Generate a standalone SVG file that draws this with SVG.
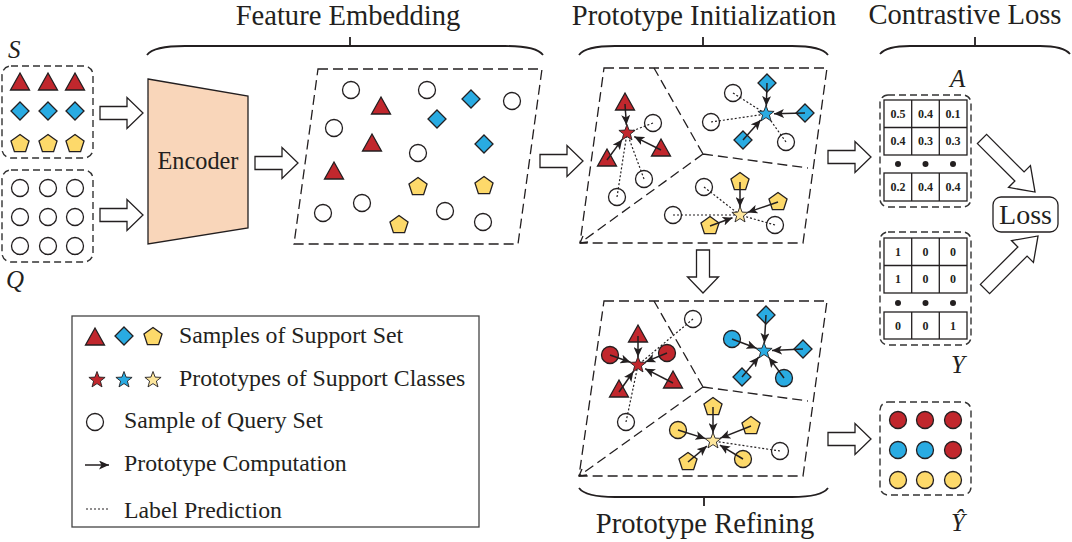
<svg xmlns="http://www.w3.org/2000/svg" xmlns:xlink="http://www.w3.org/1999/xlink" width="1072" height="542" viewBox="0 0 1072 542">
<style>
.t{font-family:"Liberation Serif","Times New Roman",serif;fill:#231f20}
.ttl{font-size:28.6px;text-anchor:middle}
.lg{font-size:23.8px}
.it{font-style:italic;font-size:25px}
.num{font-size:12px;font-weight:bold;text-anchor:middle}
.sh{stroke:#231f20;stroke-width:1.3}
.r{fill:#c1272d}.b{fill:#29abe2}.y{fill:#fdd96a}.ys{fill:#fde69c}.w{fill:none}.wf{fill:#fff}
.dash{fill:none;stroke:#231f20;stroke-width:1.3;stroke-dasharray:10,5}
.rbox{fill:none;stroke:#333;stroke-width:1.4;stroke-dasharray:7,4}
.brace{fill:none;stroke:#231f20;stroke-width:1.8}
.ha{fill:#fff;stroke:#231f20;stroke-width:1.3}
.ar{stroke:#231f20;stroke-width:1.5;fill:none;marker-end:url(#ah)}
.dt{stroke:#231f20;stroke-width:1.2;stroke-dasharray:2,2;fill:none}
.grid{fill:#fff;stroke:#231f20;stroke-width:1.3}
</style>
<defs>
<marker id="ah" markerUnits="userSpaceOnUse" markerWidth="11" markerHeight="9" refX="10" refY="4.5" orient="auto"><path d="M0,0 L10,4.5 L0,9 L2.5,4.5 Z" fill="#231f20"/></marker>
<polygon id="tri" points="0,-10 9.5,7 -9.5,7" class="sh"/>
<polygon id="dia" points="0,-9 9,0 0,9 -9,0" class="sh"/>
<polygon id="pen" points="0,-9.5 9.04,-2.94 5.58,7.69 -5.58,7.69 -9.04,-2.94" class="sh"/>
<circle id="cir" r="8.5" class="sh"/>
<polygon id="star" points="0,-8.5 2.1,-2.9 8.1,-2.6 3.4,1.1 5,6.9 0,3.6 -5,6.9 -3.4,1.1 -8.1,-2.6 -2.1,-2.9" stroke="#231f20" stroke-width="0.9"/>
<path id="harr" d="M0,-6.5 H27 V-15.5 L43,0 L27,15.5 V6.5 H0 Z" class="ha"/>
<path id="harrL" d="M0,-6.5 H53 V-15.5 L75,0 L53,15.5 V6.5 H0 Z" class="ha"/>
</defs>
<rect width="1072" height="542" fill="#fff"/>

<!-- Titles and braces -->
<g id="titles">
<text class="t ttl" x="348" y="25">Feature Embedding</text>
<text class="t ttl" x="704" y="25">Prototype Initialization</text>
<text class="t ttl" x="965" y="24">Contrastive Loss</text>
<text class="t ttl" x="705" y="533">Prototype Refining</text>
<path class="brace" d="M147,55 C152,48 165,46 185,46 H505 C525,46 538,48 543,55 M350,46 V37"/>
<path class="brace" d="M579,55 C584,48 597,46 615,46 H792 C810,46 823,48 828,55 M703,46 V37"/>
<path class="brace" d="M880,54 C885,48 896,46 910,46 H1040 C1054,46 1065,48 1070,54 M975,46 V37"/>
<path class="brace" d="M579,488 C584,495 597,497 615,497 H792 C810,497 823,495 828,488 M704,497 V506"/>
</g>

<!-- Support set S -->
<g id="support-set">
<text class="t it" x="8" y="58">S</text>
<rect class="rbox" x="2" y="66" width="91" height="92" rx="9"/>
<use href="#tri" class="r" x="20" y="83"/><use href="#tri" class="r" x="48" y="83"/><use href="#tri" class="r" x="75" y="83"/>
<use href="#dia" class="b" x="20" y="111"/><use href="#dia" class="b" x="48" y="111"/><use href="#dia" class="b" x="75" y="111"/>
<use href="#pen" class="y" x="20" y="144"/><use href="#pen" class="y" x="48" y="144"/><use href="#pen" class="y" x="75" y="144"/>
</g>

<!-- Query set Q -->
<g id="query-set">
<rect class="rbox" x="2" y="170" width="91" height="92" rx="9"/>
<use href="#cir" class="w" x="20" y="188"/><use href="#cir" class="w" x="48" y="188"/><use href="#cir" class="w" x="75" y="188"/>
<use href="#cir" class="w" x="20" y="217"/><use href="#cir" class="w" x="48" y="217"/><use href="#cir" class="w" x="75" y="217"/>
<use href="#cir" class="w" x="20" y="246"/><use href="#cir" class="w" x="48" y="246"/><use href="#cir" class="w" x="75" y="246"/>
<text class="t it" x="6" y="288">Q</text>
</g>

<!-- Encoder -->
<g id="encoder">
<polygon points="148,79 248,96 248,228 148,244" fill="#f9d6ba" stroke="#231f20" stroke-width="1.3"/>
<text class="t" x="198" y="169" font-size="24.3" text-anchor="middle">Encoder</text>
</g>

<!-- Feature embedding space -->
<g id="embedding">
<polygon class="dash" points="318,69 542,69 518,244 294,244"/>
<use href="#cir" class="w" x="351" y="90"/>
<use href="#cir" class="w" x="427" y="90"/>
<use href="#dia" class="b" x="471" y="99"/>
<use href="#cir" class="w" x="512" y="101"/>
<use href="#tri" class="r" x="381" y="107"/>
<use href="#dia" class="b" x="437" y="119"/>
<use href="#cir" class="w" x="334" y="128"/>
<use href="#tri" class="r" x="372" y="144"/>
<use href="#dia" class="b" x="484" y="144"/>
<use href="#cir" class="w" x="418" y="153"/>
<use href="#tri" class="r" x="334" y="172"/>
<use href="#pen" class="y" x="418" y="187"/>
<use href="#pen" class="y" x="484" y="186"/>
<use href="#cir" class="w" x="362" y="203"/>
<use href="#cir" class="w" x="323" y="213"/>
<use href="#cir" class="w" x="445" y="211"/>
<use href="#pen" class="y" x="399" y="225"/>
<use href="#cir" class="w" x="483" y="222"/>
</g>

<!-- Prototype initialization -->
<g id="proto-init">
<polygon class="dash" points="604,68 827,68 803,243 580,243"/>
<path class="dash" d="M703,154 L654,68 M703,154 L808,168 M703,154 L580,243"/>
<path d="M580,243 L588,242 M580,243 L583,236" stroke="#231f20" stroke-width="1.3" fill="none"/>
<!-- red -->
<path class="dt" d="M653,123 L627,133 M644,179 L627,133 M617,197 L627,133"/>
<use href="#cir" class="w" x="653" y="123"/><use href="#cir" class="w" x="644" y="179"/><use href="#cir" class="w" x="617" y="197"/>
<use href="#tri" class="r" x="625" y="103"/><use href="#tri" class="r" x="661" y="149"/><use href="#tri" class="r" x="607" y="159"/>
<path class="ar" d="M625,104 L626.4,125"/>
<path class="ar" d="M661,150 L634.2,136.6"/>
<path class="ar" d="M607,160 L622.2,139.4"/>
<use href="#star" class="r" x="627" y="133"/>
<!-- blue -->
<path class="dt" d="M733,93 L766,114 M711,122 L766,114 M786,142 L766,114"/>
<use href="#cir" class="w" x="733" y="93"/><use href="#cir" class="w" x="711" y="122"/><use href="#cir" class="w" x="786" y="142"/>
<use href="#dia" class="b" x="767" y="83"/><use href="#dia" class="b" x="805" y="113"/><use href="#dia" class="b" x="743" y="140"/>
<path class="ar" d="M767,83 L766.3,106"/>
<path class="ar" d="M805,113 L774,113.8"/>
<path class="ar" d="M743,140 L760.7,120"/>
<use href="#star" class="b" x="766" y="114"/>
<!-- yellow -->
<path class="dt" d="M704,187 L740,215 M673,215 L740,215 M775,225 L740,215"/>
<use href="#cir" class="w" x="704" y="187"/><use href="#cir" class="w" x="673" y="215"/><use href="#cir" class="w" x="775" y="225"/>
<use href="#pen" class="y" x="740" y="182"/><use href="#pen" class="y" x="778" y="202"/><use href="#pen" class="y" x="710" y="226"/>
<path class="ar" d="M740,182 L740,207"/>
<path class="ar" d="M778,202 L747.6,212.4"/>
<path class="ar" d="M710,226 L732.5,217.8"/>
<use href="#star" class="ys" x="740" y="215"/>
</g>

<!-- Prototype refining -->
<g id="proto-refine">
<polygon class="dash" points="604,301 827,301 803,476 579,476"/>
<path class="dash" d="M703,387 L654,301 M703,387 L808,401 M703,387 L579,476"/>
<path d="M579,476 L587,475 M579,476 L582,469" stroke="#231f20" stroke-width="1.3" fill="none"/>
<!-- red -->
<path class="dt" d="M693,319 L638,365 M626,422 L638,365"/>
<use href="#cir" class="w" x="693" y="319"/><use href="#cir" class="w" x="626" y="422"/>
<use href="#tri" class="r" x="638" y="335"/>
<use href="#cir" class="r" x="610" y="355"/><use href="#cir" class="r" x="667" y="353"/>
<use href="#tri" class="r" x="673" y="381"/><use href="#tri" class="r" x="619" y="390"/>
<path class="ar" d="M638,336 L638,357"/>
<path class="ar" d="M610,355 L630.5,362.3"/>
<path class="ar" d="M667,353 L645.4,361.9"/>
<path class="ar" d="M673,383 L645.1,368.7"/>
<path class="ar" d="M619,392 L633.4,371.5"/>
<use href="#star" class="r" x="638" y="365"/>
<!-- blue -->
<use href="#dia" class="b" x="766" y="315"/><use href="#dia" class="b" x="803" y="349"/><use href="#dia" class="b" x="742" y="377"/>
<use href="#cir" class="b" x="732" y="339"/><use href="#cir" class="b" x="784" y="378"/>
<path class="ar" d="M766,315 L764.4,343"/>
<path class="ar" d="M803,349 L772,350.6"/>
<path class="ar" d="M742,377 L758.8,357.1"/>
<path class="ar" d="M732,339 L756.5,348.2"/>
<path class="ar" d="M784,378 L768.8,357.4"/>
<use href="#star" class="b" x="764" y="351"/>
<!-- yellow -->
<path class="dt" d="M780,451 L713,441"/>
<use href="#cir" class="w" x="780" y="451"/>
<use href="#pen" class="y" x="713" y="407"/><use href="#pen" class="y" x="751" y="426"/><use href="#pen" class="y" x="688" y="462"/>
<use href="#cir" class="y" x="678" y="430"/><use href="#cir" class="y" x="743" y="459"/>
<path class="ar" d="M713,407 L713,433"/>
<path class="ar" d="M751,426 L720.4,438.1"/>
<path class="ar" d="M678,430 L705.4,438.6"/>
<path class="ar" d="M688,462 L706.9,446.1"/>
<path class="ar" d="M743,459 L719.9,445.1"/>
<use href="#star" class="ys" x="713" y="441"/>
</g>

<!-- Matrix A -->
<g id="matrix-A">
<text class="t it" x="950" y="87">A</text>
<rect class="rbox" x="880" y="95" width="91" height="112" rx="8"/>
<g class="grid">
<rect x="884" y="100" width="83" height="55"/>
<rect x="884" y="173" width="83" height="28"/>
<path d="M884,127.5 H967 M911.7,100 V155 M939.3,100 V155 M911.7,173 V201 M939.3,173 V201" stroke="#231f20" stroke-width="1.3"/>
</g>
<g class="t num">
<text x="898" y="118">0.5</text><text x="925.5" y="118">0.4</text><text x="953" y="118">0.1</text>
<text x="898" y="145">0.4</text><text x="925.5" y="145">0.3</text><text x="953" y="145">0.3</text>
<text x="898" y="191">0.2</text><text x="925.5" y="191">0.4</text><text x="953" y="191">0.4</text>
</g>
<circle cx="898" cy="164" r="3" fill="#231f20"/><circle cx="925.5" cy="164" r="3" fill="#231f20"/><circle cx="953" cy="164" r="3" fill="#231f20"/>
</g>

<!-- Matrix Y -->
<g id="matrix-Y">
<rect class="rbox" x="880" y="232" width="91" height="113" rx="8"/>
<g class="grid">
<rect x="884" y="238" width="83" height="55"/>
<rect x="884" y="312" width="83" height="27"/>
<path d="M884,265.5 H967 M911.7,238 V293 M939.3,238 V293 M911.7,312 V339 M939.3,312 V339" stroke="#231f20" stroke-width="1.3"/>
</g>
<g class="t num">
<text x="898" y="256">1</text><text x="925.5" y="256">0</text><text x="953" y="256">0</text>
<text x="898" y="283">1</text><text x="925.5" y="283">0</text><text x="953" y="283">0</text>
<text x="898" y="330">0</text><text x="925.5" y="330">0</text><text x="953" y="330">1</text>
</g>
<circle cx="898" cy="303" r="3" fill="#231f20"/><circle cx="925.5" cy="303" r="3" fill="#231f20"/><circle cx="953" cy="303" r="3" fill="#231f20"/>
<text class="t it" x="951" y="373">Y</text>
</g>

<!-- Loss -->
<g id="loss">
<rect x="993" y="197" width="65" height="35" rx="8" fill="#fff" stroke="#231f20" stroke-width="1.3"/>
<text class="t" x="1025.5" y="224" font-size="28" text-anchor="middle">Loss</text>
</g>

<!-- Prediction Y hat -->
<g id="prediction">
<rect class="rbox" x="880" y="402" width="91" height="93" rx="8"/>
<use href="#cir" class="r" x="898" y="420"/><use href="#cir" class="r" x="925" y="420"/><use href="#cir" class="r" x="953" y="420"/>
<use href="#cir" class="b" x="898" y="450"/><use href="#cir" class="b" x="925" y="450"/><use href="#cir" class="r" x="953" y="450"/>
<use href="#cir" class="y" x="898" y="480"/><use href="#cir" class="y" x="925" y="480"/><use href="#cir" class="y" x="953" y="480"/>
<text class="t it" x="951" y="531">Ŷ</text>
</g>

<!-- Legend -->
<g id="legend">
<rect x="72" y="316" width="407" height="211" fill="#fff" stroke="#444" stroke-width="1.3"/>
<use href="#tri" class="r" x="95" y="338"/><use href="#dia" class="b" x="124" y="336"/><use href="#pen" class="y" x="153" y="337"/>
<text class="t lg" x="179" y="343">Samples of Support Set</text>
<use href="#star" class="r" x="97" y="380"/><use href="#star" class="b" x="124" y="380"/><use href="#star" class="ys" x="153" y="380"/>
<text class="t lg" x="179" y="386">Prototypes of Support Classes</text>
<use href="#cir" class="w" x="95" y="422"/>
<text class="t lg" x="124" y="428">Sample of Query Set</text>
<path class="ar" d="M85,465 L109,465"/>
<text class="t lg" x="124" y="471">Prototype Computation</text>
<path class="dt" d="M86,509 L108,509"/>
<text class="t lg" x="124" y="518">Label Prediction</text>
</g>

<!-- Connectors (hollow arrows) -->
<g id="connectors">
<use href="#harr" transform="translate(100,113)"/>
<use href="#harr" transform="translate(100,215)"/>
<use href="#harr" transform="translate(255,163)"/>
<use href="#harr" transform="translate(540,161)"/>
<use href="#harr" transform="translate(828,157)"/>
<use href="#harr" transform="translate(703,250) rotate(90)"/>
<use href="#harr" transform="translate(828,439)"/>
<use href="#harrL" transform="translate(982,139) rotate(45)"/>
<use href="#harrL" transform="translate(985,289) rotate(-45)"/>
</g>
</svg>
